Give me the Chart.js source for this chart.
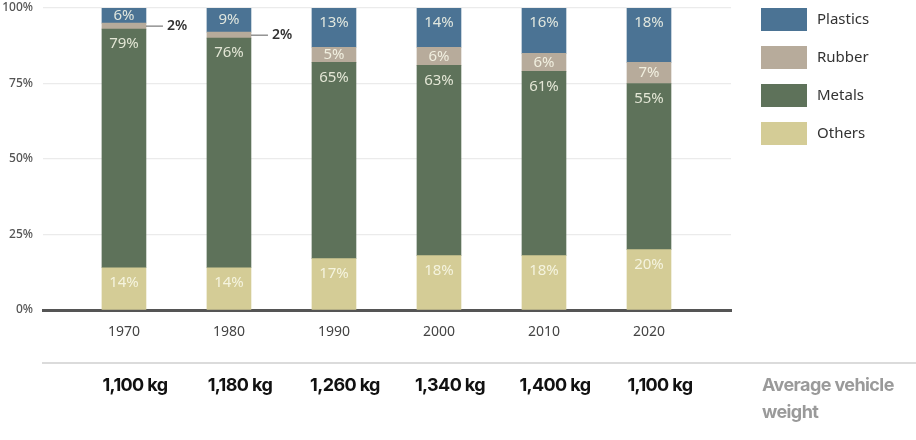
<!DOCTYPE html>
<html>
<head>
<meta charset="utf-8">
<script src="https://cdn.jsdelivr.net/npm/chart.js@4"></script>
<style>
  html, body { margin: 0; padding: 0; background: #fff; }
  #wrap { width: 916px; height: 440px; position: relative; }
</style>
</head>
<body>
<div id="wrap"><canvas id="chart" width="916" height="440"></canvas></div>
<script>
const years = ['1970', '1980', '1990', '2000', '2010', '2020'];
const others = [14, 14, 17, 18, 18, 20];
const metals = [79, 76, 65, 63, 61, 55];
const rubber = [2, 2, 5, 6, 6, 7];
const plastics = [6, 9, 13, 14, 16, 18];
const weights = ['1,100 kg', '1,180 kg', '1,260 kg', '1,340 kg', '1,400 kg', '1,100 kg'];
const yTicks = [0, 25, 50, 75, 100];

function pts(arr) {
    return arr.map((v, i) => ({ x: i, y: v }));
}

// percent labels inside the bars, small ones outside with a leader line
const barLabels = {
    id: 'barLabels',
    afterDatasetsDraw(chart) {
        const ctx = chart.ctx;
        const top = chart.chartArea.top;
        ctx.save();
        chart.data.datasets.forEach((ds, di) => {
            const meta = chart.getDatasetMeta(di);
            meta.data.forEach((bar, i) => {
                const v = ds.data[i].y;
                const y1 = Math.max(bar.y, top);
                const y2 = bar.base;
                const mid = (y1 + y2) / 2;
                if (v < 3) {
                    const right = bar.x + bar.width / 2;
                    ctx.strokeStyle = '#777';
                    ctx.lineWidth = 1.2;
                    ctx.beginPath();
                    ctx.moveTo(right, mid);
                    ctx.lineTo(right + 17, mid);
                    ctx.stroke();
                    ctx.fillStyle = '#333';
                    ctx.font = '600 14px "Noto Sans"';
                    ctx.textAlign = 'left';
                    ctx.textBaseline = 'middle';
                    ctx.fillText(v + '%', right + 21, mid);
                } else {
                    ctx.fillStyle = 'rgba(250,250,235,0.85)';
                    ctx.font = '15px "Noto Sans"';
                    ctx.textAlign = 'center';
                    ctx.textBaseline = 'middle';
                    ctx.fillText(v + '%', bar.x, Math.min(y1 + 15, mid));
                }
            });
        });
        ctx.restore();
    }
};

// legend, weight row and side caption
const extras = {
    id: 'extras',
    afterDraw(chart) {
        const ctx = chart.ctx;
        const xs = chart.scales.x;
        ctx.save();
        const order = chart.data.datasets.slice().reverse();
        order.forEach((ds, k) => {
            const y = 8 + k * 38;
            ctx.fillStyle = ds.backgroundColor;
            ctx.fillRect(761, y, 46, 23);
            ctx.fillStyle = '#333';
            ctx.font = '15px "Noto Sans"';
            ctx.textAlign = 'left';
            ctx.textBaseline = 'middle';
            ctx.fillText(ds.label, 817, y + 12);
        });

        ctx.strokeStyle = '#cfcfcf';
        ctx.lineWidth = 1.5;
        ctx.beginPath();
        ctx.moveTo(42, 363);
        ctx.lineTo(916, 363);
        ctx.stroke();

        ctx.fillStyle = '#111';
        ctx.font = 'bold 18px Inter';
        ctx.letterSpacing = '-0.6px';
        ctx.textAlign = 'center';
        ctx.textBaseline = 'middle';
        weights.forEach((w, i) => {
            ctx.fillText(w, xs.getPixelForValue(i) + 11, 386);
        });

        ctx.fillStyle = '#9a9a9a';
        ctx.textAlign = 'left';
        ctx.fillText('Average vehicle', 762, 386);
        ctx.fillText('weight', 762, 413);
        ctx.restore();
    }
};

new Chart(document.getElementById('chart'), {
    type: 'bar',
    data: {
        datasets: [
            { label: 'Others', data: pts(others), backgroundColor: '#d4cc96' },
            { label: 'Metals', data: pts(metals), backgroundColor: '#5e725a' },
            { label: 'Rubber', data: pts(rubber), backgroundColor: '#b7ab9b' },
            { label: 'Plastics', data: pts(plastics), backgroundColor: '#4b7394' }
        ]
    },
    options: {
        responsive: false,
        animation: false,
        layout: { padding: { top: 0, right: 185, left: 0, bottom: 0 } },
        datasets: { bar: { barThickness: 44, borderWidth: 0 } },
        plugins: { legend: { display: false }, tooltip: { enabled: false } },
        scales: {
            x: {
                type: 'linear',
                stacked: true,
                offset: false,
                min: -0.771,
                max: 5.781,
                afterBuildTicks: s => { s.ticks = years.map((y, i) => ({ value: i })); },
                afterFit: s => { s.height = 130; s.paddingLeft = 0; s.paddingRight = 0; },
                grid: { display: false, offset: false },
                border: { display: true, color: '#555', width: 3 },
                ticks: {
                    callback: v => years[v],
                    color: '#444',
                    font: { family: 'Noto Sans', size: 14 },
                    padding: 6,
                    maxRotation: 0
                }
            },
            y: {
                stacked: true,
                min: 0,
                max: 100,
                afterBuildTicks: s => { s.ticks = yTicks.map(v => ({ value: v })); },
                afterFit: s => { s.width = 43; s.paddingTop = 8; s.paddingBottom = 0; },
                border: { display: false },
                grid: {
                    drawTicks: false,
                    color: c => c.tick && c.tick.value === 0 ? 'rgba(0,0,0,0)' : '#ebebeb',
                    lineWidth: 1.2
                },
                ticks: {
                    callback: v => v + '%',
                    color: '#555',
                    font: { family: 'Noto Sans', size: 12, weight: '500' },
                    padding: 10
                }
            }
        }
    },
    plugins: [barLabels, extras]
});
</script>
</body>
</html>
